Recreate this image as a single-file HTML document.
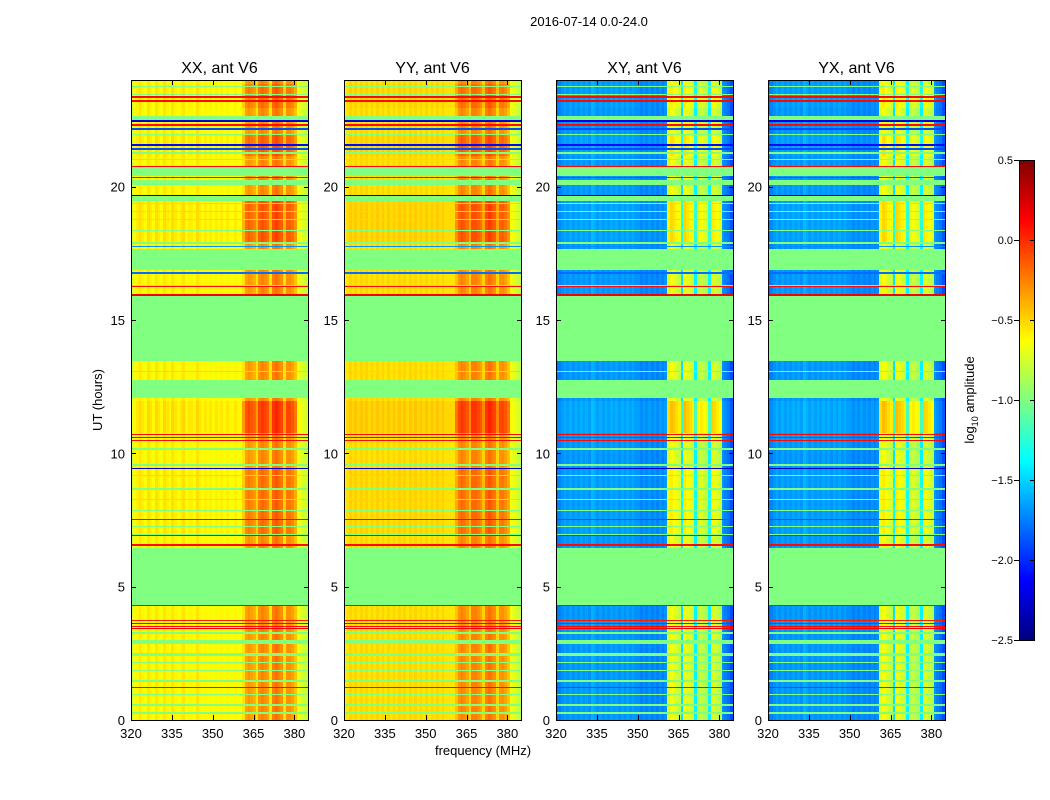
<!DOCTYPE html>
<html><head><meta charset="utf-8">
<style>
body{margin:0;background:#fff;width:1050px;height:800px;overflow:hidden;font-family:"Liberation Sans",sans-serif;}
#root{position:relative;width:1050px;height:800px;}
canvas{position:absolute;image-rendering:pixelated;}
svg{position:absolute;left:0;top:0;}
</style></head>
<body>
<div id="root">
<canvas id="c0" style="left:131px;top:80px" width="177" height="640"></canvas>
<canvas id="c1" style="left:344px;top:80px" width="177" height="640"></canvas>
<canvas id="c2" style="left:556px;top:80px" width="177" height="640"></canvas>
<canvas id="c3" style="left:768px;top:80px" width="177" height="640"></canvas>
<canvas id="cb" style="left:1019px;top:160px" width="15" height="480"></canvas>
<svg id="ov" width="1050" height="800"></svg>
</div>
<script>
// ---- data ----
const freqs = [];for(let f=320;f<=384;f++)freqs.push(f);
const xxProfile = [-0.75,-0.65,-0.6,-0.55,-0.6,-0.65,-0.55,-0.6,-0.65,-0.55,-0.6,-0.65,-0.55,-0.6,-0.65,-0.55,-0.6,-0.65,-0.6,-0.55,-0.65,-0.6,-0.6,-0.65,-0.55,-0.6,-0.65,-0.6,-0.65,-0.6,-0.65,-0.6,-0.65,-0.6,-0.65,-0.6,-0.65,-0.65,-0.6,-0.65,-0.65,-0.55,-0.35,-0.3,-0.35,-0.4,-0.55,-0.3,-0.25,-0.3,-0.35,-0.55,-0.25,-0.2,-0.25,-0.3,-0.55,-0.3,-0.3,-0.35,-0.45,-0.65,-0.7,-0.75,-0.8];
const yyProfile = [-0.7,-0.55,-0.5,-0.55,-0.5,-0.55,-0.5,-0.55,-0.5,-0.55,-0.5,-0.55,-0.5,-0.55,-0.5,-0.55,-0.5,-0.55,-0.5,-0.55,-0.5,-0.55,-0.5,-0.55,-0.5,-0.55,-0.5,-0.55,-0.5,-0.55,-0.5,-0.55,-0.5,-0.55,-0.5,-0.55,-0.5,-0.55,-0.55,-0.55,-0.55,-0.45,-0.3,-0.25,-0.3,-0.35,-0.5,-0.25,-0.25,-0.3,-0.35,-0.5,-0.25,-0.2,-0.25,-0.3,-0.5,-0.3,-0.3,-0.35,-0.45,-0.65,-0.7,-0.75,-0.8];
const xyProfile = [-1.8,-1.75,-1.7,-1.65,-1.7,-1.65,-1.7,-1.65,-1.7,-1.65,-1.7,-1.65,-1.7,-1.6,-1.65,-1.7,-1.65,-1.7,-1.65,-1.7,-1.65,-1.7,-1.65,-1.7,-1.65,-1.7,-1.65,-1.7,-1.65,-1.7,-1.7,-1.75,-1.7,-1.75,-1.7,-1.75,-1.7,-1.75,-1.7,-1.75,-1.7,-0.75,-0.65,-0.7,-0.75,-0.8,-1.45,-0.65,-0.7,-0.75,-0.8,-1.4,-0.85,-0.8,-0.85,-0.9,-1.4,-0.7,-0.75,-0.8,-0.85,-1.7,-1.75,-1.8,-1.9];
const yxProfile = xyProfile.slice();
const flagBands = [[2.45,2.55],[2.9,3.05],[4.35,6.5],[12.1,12.8],[13.5,16.0],[16.25,16.35],[16.9,17.7],[19.5,19.7],[20.1,20.3],[20.45,20.76],[22.55,22.7]];
const textureHours = [0.3,0.6,1.0,1.5,1.9,2.2,3.3,7.0,7.3,7.9,8.3,8.7,9.2,9.6,10.2,12.4,13.1,17.9,18.4,18.8,19.1,19.4,21.05,21.3,22.0,23.5,23.8];
const lineHours = [23.4,23.25,22.35,20.8,20.37,16.29,15.98,15.95,10.75,10.62,10.51,7.56,6.94,6.6,4.33,3.76,3.66,3.56,3.46,1.24,22.5,22.2,21.6,21.45,19.72,9.46,17.8,16.8];
const lineValues = [0.1,0.1,0.1,0.1,0.1,0.1,0.15,0.15,0.1,0.15,0.1,0.1,0.1,0.1,0.1,0.05,0.15,0.1,0.15,0.1,-2.2,-1.9,-2.1,-1.9,-2.4,-2.3,-1.7,-1.8];
const gainSegments = [[10.8,12.0,0.15],[17.9,19.5,0.1],[7.0,9.5,0.05],[21.2,22.0,0.08],[23.0,23.9,0.05]];
const tickHours = [0,5,10,15,20];
const tickFreqs = [320,335,350,365,380];
const cbTicks = [0.5,0.0,-0.5,-1.0,-1.5,-2.0,-2.5];
const cbTickLabels = ["0.5","0.0","\u22120.5","\u22121.0","\u22121.5","\u22122.0","\u22122.5"];
const panelTitles = ["XX, ant V6","YY, ant V6","XY, ant V6","YX, ant V6"];
const profiles = [xxProfile,yyProfile,xyProfile,yxProfile];

// ---- scales ----
const vmin=-2.5,vmax=0.5,fmin=320,fmax=385,tmax=24;
const panelX=[131,344,556,768],PW=177,PY=80,PH=640;
const xs=(f,i)=>panelX[i]+(f-fmin)/(fmax-fmin)*PW;
const ys=h=>PY+PH-(h/tmax)*PH;
function jet(v){let t=(v-vmin)/(vmax-vmin);t=Math.max(0,Math.min(1,t));
 const c=x=>Math.round(255*Math.max(0,Math.min(1,x)));
 return `rgb(${c(1.5-Math.abs(4*t-3))},${c(1.5-Math.abs(4*t-2))},${c(1.5-Math.abs(4*t-1))})`;}

function rowValue(h,prof,ch){
 for(let k=0;k<lineHours.length;k++) if(Math.abs(h-lineHours[k])<0.019) return lineValues[k];
 for(const b of flagBands) if(h>=b[0]&&h<b[1]) return -1.0;
 for(const t of textureHours) if(Math.abs(h-t)<0.019) return -1.0;
 let g=0;for(const s of gainSegments) if(h>=s[0]&&h<s[1]){g=s[2];}
 let v=prof[ch]; const hot=freqs[ch]>=361&&freqs[ch]<=380;
 return v+(hot?g*1.5:g*0.3);
}
const dh=0.0375;
for(let i=0;i<4;i++){
 const cv=document.getElementById('c'+i),ctx=cv.getContext('2d');
 for(let r=0;r*dh<tmax;r++){const h=r*dh+dh/2;
  for(let ch=0;ch<freqs.length;ch++){
   ctx.fillStyle=jet(rowValue(h,profiles[i],ch));
   const x0=xs(freqs[ch],i)-panelX[i],x1=xs(freqs[ch]+1,i)-panelX[i];
   const y0=ys(r*dh+dh)-PY,y1=ys(r*dh)-PY;
   ctx.fillRect(Math.floor(x0),Math.floor(y0),Math.ceil(x1-x0)+1,Math.ceil(y1-y0)+1);
  }}
}
{const cv=document.getElementById('cb'),ctx=cv.getContext('2d');
 for(let y=0;y<480;y++){ctx.fillStyle=jet(vmax-(y+0.5)/480*(vmax-vmin));ctx.fillRect(0,y,15,1);}}

// ---- axes ----
const NS='http://www.w3.org/2000/svg',ov=document.getElementById('ov');
function el(tag,attrs,text){const e=document.createElementNS(NS,tag);for(const k in attrs)e.setAttribute(k,attrs[k]);if(text!==undefined)e.textContent=text;ov.appendChild(e);return e;}
let e=el('text',{x:589,y:26,'font-size':13,'text-anchor':'middle','font-family':'Liberation Sans'},'2016-07-14 0.0-24.0');


for(let i=0;i<4;i++){
 e=el('rect',{x:panelX[i]+0.5,y:PY+0.5,width:PW,height:PH,fill:'none',stroke:'#000','stroke-width':1});
 
 
 e=el('text',{x:panelX[i]+PW/2,y:73,'font-size':16,'text-anchor':'middle','font-family':'Liberation Sans'},panelTitles[i]);
 
 
 for(const h of tickHours){const y=Math.round(ys(h))+0.5;
  el('line',{x1:panelX[i],y1:y,x2:panelX[i]+5,y2:y,stroke:'#000'});
  el('line',{x1:panelX[i]+PW-4,y1:y,x2:panelX[i]+PW+1,y2:y,stroke:'#000'});
  e=el('text',{x:panelX[i]-6,y:ys(h)+5,'font-size':13,'text-anchor':'end','font-family':'Liberation Sans'},String(h));
  
  }
 for(const f of tickFreqs){const x=Math.round(xs(f,i))+0.5;
  el('line',{x1:x,y1:PY+PH,x2:x,y2:PY+PH-5,stroke:'#000'});
  el('line',{x1:x,y1:PY,x2:x,y2:PY+5,stroke:'#000'});
  e=el('text',{x:xs(f,i),y:PY+PH+18,'font-size':13,'text-anchor':'middle','font-family':'Liberation Sans'},String(f));
  
  }
}
e=el('text',{x:0,y:0,'font-size':13,'text-anchor':'middle','font-family':'Liberation Sans',transform:'translate(102,400) rotate(-90)'},'UT (hours)');


e=el('text',{x:483,y:755,'font-size':13,'text-anchor':'middle','font-family':'Liberation Sans'},'frequency (MHz)');


e=el('rect',{x:1019.5,y:160.5,width:15,height:480,fill:'none',stroke:'#000'});


cbTicks.forEach((v,k)=>{const y=160+(vmax-v)/(vmax-vmin)*480;
 el('line',{x1:1030,y1:y+0.5,x2:1034,y2:y+0.5,stroke:'#000'});
 el('line',{x1:1014,y1:y+0.5,x2:1019,y2:y+0.5,stroke:'#000'});
 e=el('text',{x:1013,y:y+4,'font-size':11,'text-anchor':'end','font-family':'Liberation Sans'},cbTickLabels[k]);
 
 });
e=el('text',{x:0,y:0,'font-size':13,'text-anchor':'middle','font-family':'Liberation Sans',transform:'translate(974,400) rotate(-90)'});
e.innerHTML='log<tspan font-size="9" dy="4">10</tspan><tspan dy="-4"> amplitude</tspan>';


</script>
</body></html>
